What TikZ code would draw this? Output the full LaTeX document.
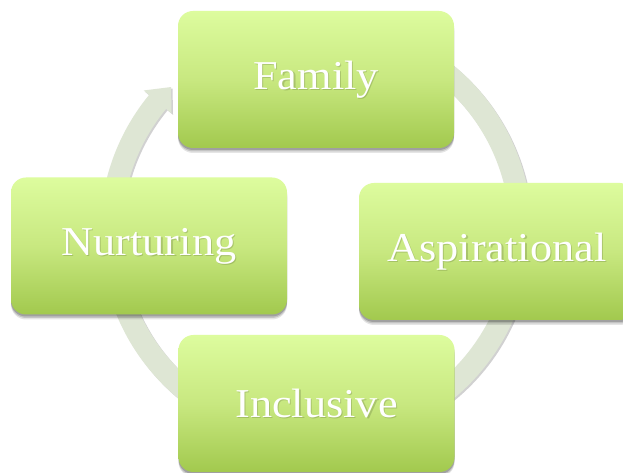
\documentclass[tikz,border=0pt]{standalone}
\usepackage{fontspec}
\newfontfamily\boxfont[FakeStretch=1.08]{Liberation Serif}
\usetikzlibrary{shadows,calc}
\definecolor{gtop}{RGB}{221,252,158}
\definecolor{gmid}{RGB}{200,232,128}
\definecolor{gbot}{RGB}{162,201,78}
\definecolor{arrowc}{RGB}{222,230,212}
\tikzset{
  blk/.style={rounded corners=15pt, minimum width=276pt, minimum height=137pt,
    top color=gtop, bottom color=gbot, middle color=gmid, draw=none,
    drop shadow={shadow xshift=0pt, shadow yshift=-5pt, opacity=0.10, fill=black},
    drop shadow={shadow xshift=0pt, shadow yshift=-3.5pt, opacity=0.14, fill=black},
    drop shadow={shadow xshift=0pt, shadow yshift=-2pt, opacity=0.18, fill=black},
    inner sep=0pt},
  lbl/.style={text=white, font=\boxfont\fontsize{41}{41}\selectfont, inner sep=0pt},
  lblshadow/.style={text=black, opacity=0.15, font=\boxfont\fontsize{41}{41}\selectfont, inner sep=0pt},
  cyc/.style={fill=arrowc,
    drop shadow={shadow xshift=1.5pt, shadow yshift=-1.5pt, opacity=0.18, fill=black}}
}
\begin{document}
\begin{tikzpicture}[x=1pt,y=1pt]
\useasboundingbox (0,0) rectangle (623,473);
\clip (0,0) rectangle (623,473);
\fill[white] (0,0) rectangle (623,473);
\coordinate (C) at (316,241);
% cycle arrow
\begin{scope}[shift={(C)}]
\fill[cyc] (110:216) arc[start angle=110,end angle=-219.4,radius=216]
  -- (140.6:223) -- (135:205) -- (140.6:187) -- (140.6:194)
  arc[start angle=-219.4,end angle=110,radius=194] -- cycle;
\end{scope}
% boxes
\node[blk] (fam) at (316,393.5) {};
\node[blk] (asp) at (497,221.5) {};
\node[blk] (nur) at (149,227) {};
\node[blk] (inc) at (316.5,69.5) {};
% labels
\foreach \n/\t in {fam/Family, asp/Aspirational, nur/Nurturing, inc/Inclusive}{
  \node[lblshadow] (\n s) at ($(\n)+(1.2,-1.2)$) {\t};
  \node[lbl] (\n t) at (\n) {\t};
}
\end{tikzpicture}
\end{document}
